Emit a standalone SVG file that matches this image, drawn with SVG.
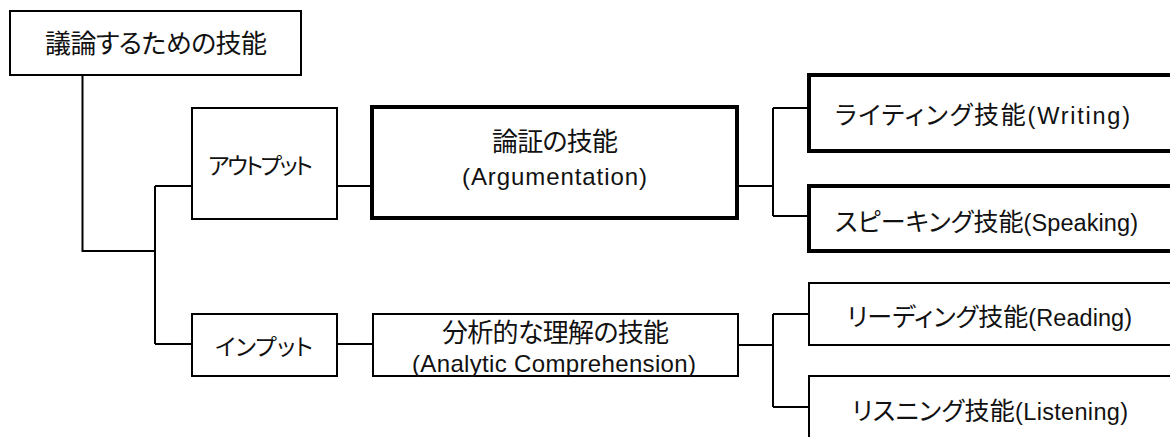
<svg xmlns="http://www.w3.org/2000/svg" width="1170" height="437" viewBox="0 0 1170 437">
<style>
.box{fill:#fff;stroke:#000;stroke-width:2}
.thick{fill:#fff;stroke:#000;stroke-width:4}
.con{fill:none;stroke:#000;stroke-width:2}
text{font-family:"Liberation Sans","Noto Sans CJK JP",sans-serif;fill:#111;font-feature-settings:"palt"}
.jp{font-size:26px}
.kn{font-size:23px}
.mx{font-size:25px}
.en{font-size:24px}
.lt{font-size:23.5px}
</style>
<rect width="1170" height="437" fill="#fff"/>
<g id="connectors">
<path class="con" d="M82.5 75V251H155M155 186V344M155 186H192M155 344H192"/>
<path class="con" d="M337 186H372M337 344H373"/>
<path class="con" d="M737 186H773M773 108V216M773 108H809M773 216H809"/>
<path class="con" d="M738 345H773M773 314V407M773 314H809M773 407H809"/>
</g>
<g id="root">
<rect class="box" x="10" y="11" width="291" height="64"/>
<text class="jp" x="45" y="53" textLength="222" lengthAdjust="spacing">議論するための技能</text>
</g>
<g id="output">
<rect class="box" x="192" y="108" width="145" height="111"/>
<text class="kn" x="208" y="174" textLength="105" lengthAdjust="spacing">アウトプット</text>
</g>
<g id="input">
<rect class="box" x="192" y="314" width="145" height="62"/>
<text class="kn" x="215" y="354.5" textLength="98" lengthAdjust="spacing">インプット</text>
</g>
<g id="argumentation">
<rect class="thick" x="372" y="107" width="365" height="111"/>
<text class="jp" x="492" y="151" textLength="126" lengthAdjust="spacing">論証の技能</text>
<text class="en" x="462" y="185" textLength="185" lengthAdjust="spacing">(Argumentation)</text>
</g>
<g id="analytic">
<rect class="box" x="373" y="314" width="365" height="62"/>
<text class="jp" x="442" y="342" textLength="227" lengthAdjust="spacing">分析的な理解の技能</text>
<text class="en" x="412" y="372" textLength="284" lengthAdjust="spacing">(Analytic Comprehension)</text>
</g>
<g id="writing">
<rect class="thick" x="809" y="75" width="400" height="76"/>
<text class="mx" x="835" y="124" textLength="295" lengthAdjust="spacing">ライティング技能<tspan class="lt">(Writing)</tspan></text>
</g>
<g id="speaking">
<rect class="thick" x="809" y="186" width="400" height="65"/>
<text class="mx" x="835" y="231" textLength="303" lengthAdjust="spacing">スピーキング技能<tspan class="lt">(Speaking)</tspan></text>
</g>
<g id="reading">
<rect class="box" x="809" y="283" width="400" height="62"/>
<text class="mx" x="847" y="326" textLength="285" lengthAdjust="spacing">リーディング技能<tspan class="lt">(Reading)</tspan></text>
</g>
<g id="listening">
<rect class="box" x="809" y="376" width="400" height="100"/>
<text class="mx" x="852" y="419.5" textLength="276" lengthAdjust="spacing">リスニング技能<tspan class="lt">(Listening)</tspan></text>
</g>
</svg>
